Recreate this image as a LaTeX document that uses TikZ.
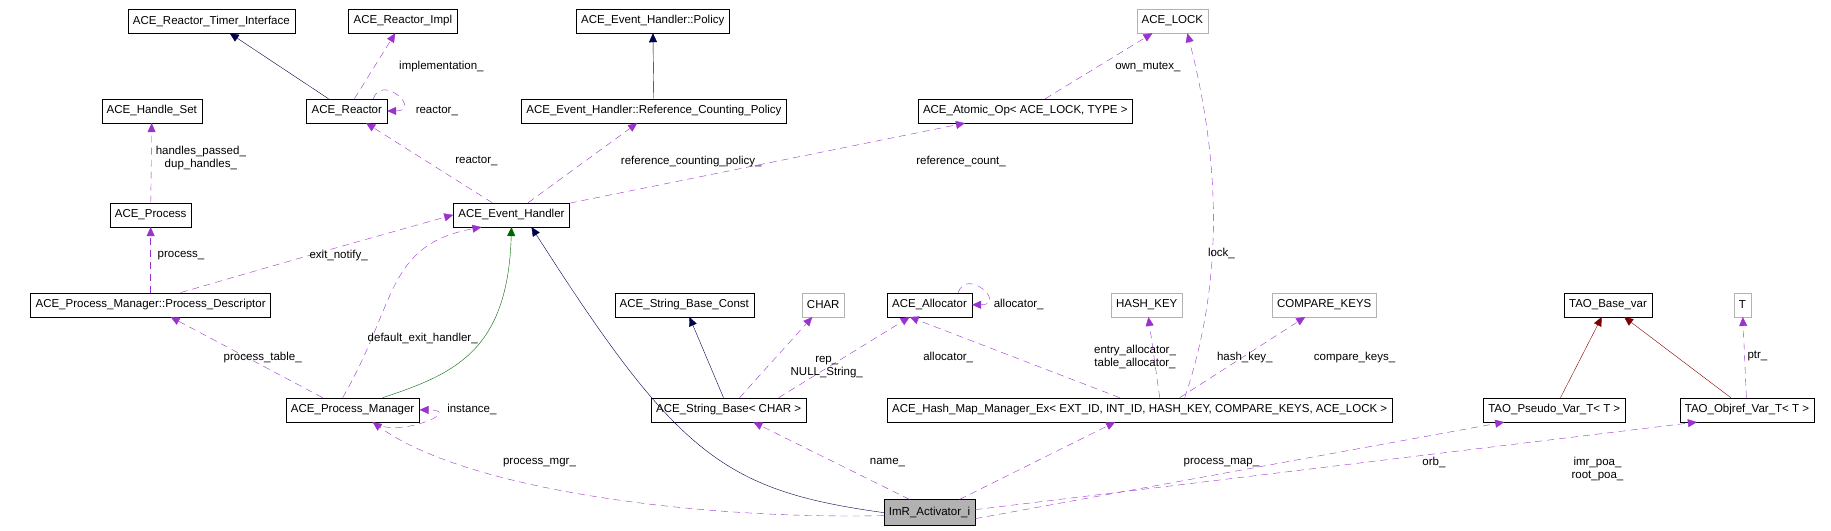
\documentclass[tikz,border=0pt]{standalone}
\usepackage{fontspec}
\setmainfont{Liberation Sans}
\usetikzlibrary{arrows.meta}
\definecolor{usec}{HTML}{9A32CD}
\begin{document}
\begin{tikzpicture}[x=1.1677pt,y=-1.1677pt,
 box/.style={draw,font=\fontsize{11.5}{13}\selectfont,minimum height=24pt,inner xsep=5pt,inner ysep=0pt},
 gbox/.style={box,draw=gray!60},
 lab/.style={font=\fontsize{11.5}{13}\selectfont,align=center,inner sep=1pt},
 tip/.style={-{Triangle[length=9pt,width=8pt]}},
 pub/.style={tip,draw=blue!30!black},
 prot/.style={tip,draw=green!40!black},
 tmpl/.style={tip,draw=red!50!black},
 use/.style={tip,draw=usec,dash pattern=on 7pt off 5pt}]
\useasboundingbox (0,0) rectangle (1568,454.7);
\node[box] (rti) at (181,18) {ACE\_Reactor\_Timer\_Interface};
\node[box] (rimpl) at (345,18) {ACE\_Reactor\_Impl};
\node[box] (pol) at (559,18) {ACE\_Event\_Handler::Policy};
\node[gbox] (lock) at (1004,18) {ACE\_LOCK};
\node[box] (hs) at (130,95) {ACE\_Handle\_Set};
\node[box] (re) at (297,95) {ACE\_Reactor};
\node[box] (rcp) at (560,95) {ACE\_Event\_Handler::Reference\_Counting\_Policy};
\node[box] (ao) at (878,95) {ACE\_Atomic\_Op< ACE\_LOCK, TYPE >};
\node[box] (pr) at (129,184) {ACE\_Process};
\node[box] (eh) at (438,184) {ACE\_Event\_Handler};
\node[box] (pd) at (129,261) {ACE\_Process\_Manager::Process\_Descriptor};
\node[box] (sbc) at (586,261) {ACE\_String\_Base\_Const};
\node[gbox] (ch) at (705,261) {CHAR};
\node[box] (al) at (796,261) {ACE\_Allocator};
\node[gbox] (hk) at (982,261) {HASH\_KEY};
\node[gbox] (ck) at (1134,261) {COMPARE\_KEYS};
\node[box] (tbv) at (1377,261) {TAO\_Base\_var};
\node[gbox] (t) at (1492,261) {T};
\node[box] (pm) at (302,351) {ACE\_Process\_Manager};
\node[box] (sb) at (624,351) {ACE\_String\_Base< CHAR >};
\node[box] (hm) at (976,351) {ACE\_Hash\_Map\_Manager\_Ex< EXT\_ID, INT\_ID, HASH\_KEY, COMPARE\_KEYS, ACE\_LOCK >};
\node[box] (pv) at (1331,351) {TAO\_Pseudo\_Var\_T< T >};
\node[box] (ov) at (1496,351) {TAO\_Objref\_Var\_T< T >};
\node[box,fill=gray!60,minimum height=26pt] (imr) at (796,439) {ImR\_Activator\_i};

\draw[pub] (re) -- (rti);
\draw[use] (re) -- (rimpl);
\draw[use] ([xshift=-14pt]re.north east) .. controls +(8,-22) and +(30,0) .. (re.east);
\draw[pub] (rcp) -- (pol);
\draw[use] (ao) -- (lock);
\draw[use] (pr) -- (hs);
\draw[use] (eh) -- (re);
\draw[use] (eh) -- (rcp);
\draw[use] (eh) -- (ao);
\draw[use] (pd) -- (pr);
\draw[use] ([xshift=30pt]pd.north) .. controls (260,220) .. (eh.west);
\draw[use] ([xshift=-10pt]pm.north) .. controls (340,260) and (330,210) .. ([xshift=-30pt]eh.south);
\draw[prot] ([xshift=30pt]pm.north) .. controls (390,320) and (435,300) .. (eh.south);
\draw[use] ([xshift=-30pt]pm.north) -- ([xshift=20pt]pd.south);
\draw[use] ([xshift=20pt]pm.south) .. controls +(20,15) and +(40,0) .. (pm.east);
\draw[pub] (imr.west) .. controls (620,420) and (580,390) .. ([xshift=20pt]eh.south);
\draw[use] ([yshift=-3pt]imr.west) .. controls (600,445) and (400,420) .. ([xshift=20pt]pm.south);
\draw[pub] (sb) -- (sbc);
\draw[use] (sb) -- (ch);
\draw[use] ([xshift=50pt]sb.north) -- (al);
\draw[use] ([xshift=-14pt]al.north east) .. controls +(8,-22) and +(30,0) .. (al.east);
\draw[use] ([xshift=-20pt]hm.north) -- ([xshift=-20pt]al.south);
\draw[use] ([xshift=20pt]hm.north) -- (hk);
\draw[use] ([xshift=40pt]hm.north) -- (ck);
\draw[use] ([xshift=45pt]hm.north) .. controls (1045,250) and (1048,150) .. ([xshift=15pt]lock.south);
\draw[use] ([xshift=-20pt]imr.north) -- (sb);
\draw[use] ([xshift=30pt]imr.north) -- (hm);
\draw[tmpl] (pv) -- (tbv);
\draw[tmpl] (ov) -- (tbv);
\draw[use] (ov) -- (t);
\draw[use] ([yshift=-6pt]imr.east) -- ([xshift=-50pt]pv.south);
\draw[use] ([yshift=3pt]imr.east) -- ([xshift=-50pt]ov.south);

\node[lab] (l1) at (378,57) {implementation\_};
\node[lab,anchor=west] (l2) at (355,95) {reactor\_};
\node[lab] (l3) at (172,135) {handles\_passed\_\\dup\_handles\_};
\node[lab] (l4) at (408,138) {reactor\_};
\node[lab] (l5) at (592,138) {reference\_counting\_policy\_};
\node[lab] (l6) at (983,57) {own\_mutex\_};
\node[lab] (l7) at (823,138) {reference\_count\_};
\node[lab] (l8) at (155,219) {process\_};
\node[lab] (l9) at (290,219) {exit\_notify\_};
\node[lab] (l10) at (362,290) {default\_exit\_handler\_};
\node[lab] (l11) at (1046,217) {lock\_};
\node[lab,anchor=west] (l12) at (850,261) {allocator\_};
\node[lab] (l13) at (708,314) {rep\_\\NULL\_String\_};
\node[lab] (l14) at (812,306) {allocator\_};
\node[lab] (l15) at (972,306) {entry\_allocator\_\\table\_allocator\_};
\node[lab] (l16) at (1066,306) {hash\_key\_};
\node[lab] (l17) at (1160,306) {compare\_keys\_};
\node[lab] (l18) at (1505,305) {ptr\_};
\node[lab] (l19) at (225,306) {process\_table\_};
\node[lab,anchor=west] (l20) at (382,351) {instance\_};
\node[lab] (l21) at (462,396) {process\_mgr\_};
\node[lab] (l22) at (760,396) {name\_};
\node[lab] (l23) at (1046,396) {process\_map\_};
\node[lab] (l24) at (1228,396) {orb\_};
\node[lab] (l25) at (1368,402) {imr\_poa\_\\root\_poa\_};
\end{tikzpicture}
\end{document}
